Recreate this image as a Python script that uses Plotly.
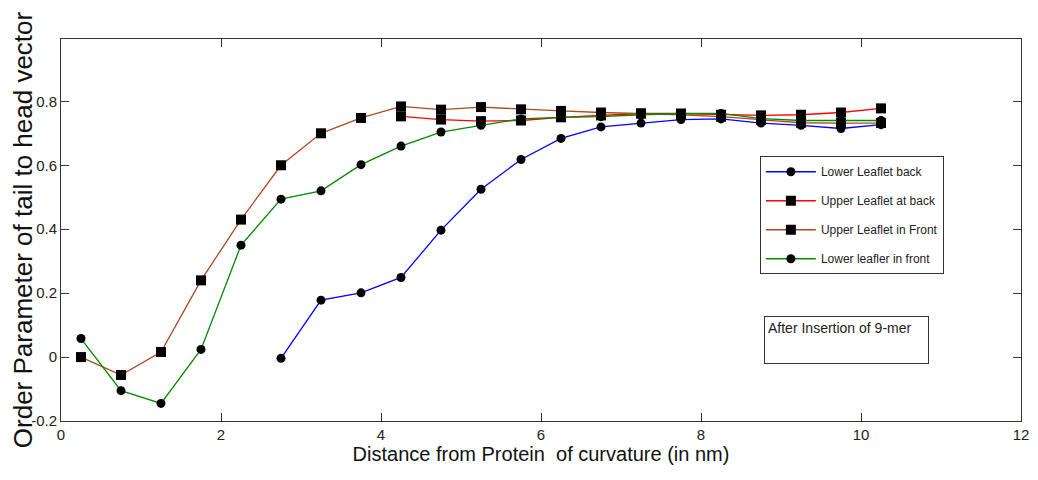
import plotly.graph_objects as go

x_all = [0.25, 0.75, 1.25, 1.75, 2.25, 2.75, 3.25, 3.75, 4.25, 4.75, 5.25,
         5.75, 6.25, 6.75, 7.25, 7.75, 8.25, 8.75, 9.25, 9.75, 10.25]

# Lower Leaflet back (starts at 2.75)
x_lower_back = x_all[5:]
y_lower_back = [-0.004, 0.178, 0.201, 0.249, 0.397, 0.525, 0.618, 0.684, 0.720,
                0.732, 0.743, 0.745, 0.732, 0.725, 0.715, 0.727]

# Upper Leaflet at back (starts at 4.25)
x_upper_back = x_all[8:]
y_upper_back = [0.753, 0.743, 0.738, 0.740, 0.750, 0.756, 0.762, 0.762, 0.758,
                0.756, 0.758, 0.765, 0.778]

# Upper Leaflet in Front
x_upper_front = x_all
y_upper_front = [0.000, -0.056, 0.016, 0.240, 0.430, 0.600, 0.700, 0.748, 0.784,
                 0.774, 0.782, 0.775, 0.770, 0.765, 0.762, 0.758, 0.752, 0.742,
                 0.733, 0.732, 0.732]

# Lower leafler in front
x_lower_front = x_all
y_lower_front = [0.058, -0.105, -0.145, 0.024, 0.350, 0.494, 0.520, 0.602, 0.660,
                 0.704, 0.725, 0.745, 0.750, 0.752, 0.758, 0.762, 0.762, 0.746,
                 0.740, 0.740, 0.740]

x_ticks = [0, 2, 4, 6, 8, 10, 12]
y_ticks = [-0.2, 0, 0.2, 0.4, 0.6, 0.8]
y_tick_labels = ["-0.2", "0", "0.2", "0.4", "0.6", "0.8"]

series = [
    ("Lower Leaflet back", x_lower_back, y_lower_back, "#0000FF", "circle"),
    ("Upper Leaflet at back", x_upper_back, y_upper_back, "#FF0000", "square"),
    ("Upper Leaflet in Front", x_upper_front, y_upper_front, "#B0471E", "square"),
    ("Lower leafler in front", x_lower_front, y_lower_front, "#008A00", "circle"),
]

fig = go.Figure()
for i, (name, xs, ys, col, sym) in enumerate(series):
    fig.add_trace(go.Scatter(
        x=xs, y=ys, name=name, mode="lines+markers", legendgroup=f"g{i}",
        line=dict(color=col, width=1.3),
        marker=dict(symbol=sym, color="black", size=10 if sym == "square" else 9,
                    line=dict(width=0)),
    ))

narrow = "Liberation Sans Narrow, Arial Narrow, Liberation Sans, Arial"
tick_font = dict(family=narrow, size=15, color="#222")

# page body has an 8px margin, so the figure is sized to fit the 1038x480 window
fig.update_layout(
    width=1022, height=464,
    margin=dict(l=53, r=9, t=31, b=51),
    paper_bgcolor="white", plot_bgcolor="white",
    showlegend=True,
    legend=dict(
        x=0.728, y=0.693, xanchor="left", yanchor="top",
        bgcolor="white", bordercolor="#333", borderwidth=1,
        font=dict(family=narrow, size=12, color="#222"),
        itemwidth=50, tracegroupgap=10,
    ),
    xaxis=dict(
        range=[0, 12], tickvals=x_ticks, ticktext=[str(v) for v in x_ticks],
        ticks="inside", ticklen=8, tickcolor="#333", mirror="allticks",
        showline=True, linecolor="#333", linewidth=1, showgrid=False, zeroline=False,
        tickfont=tick_font, automargin=False,
        title=dict(text="Distance from Protein  of curvature (in nm)",
                   font=dict(family="Liberation Sans, Arial", size=20, color="#111"),
                   standoff=4),
    ),
    yaxis=dict(
        range=[-0.2, 0.995], tickvals=y_ticks, ticktext=y_tick_labels,
        ticks="inside", ticklen=8, tickcolor="#333", mirror="allticks",
        showline=True, linecolor="#333", linewidth=1, showgrid=False, zeroline=False,
        tickfont=tick_font, automargin=False,
        title=dict(text="Order Parameter of tail to head vector",
                   font=dict(family="Liberation Sans, Arial", size=26, color="#111"),
                   standoff=8),
    ),
    annotations=[dict(
        text="After Insertion of 9-mer", xref="paper", yref="paper",
        x=0.7323, y=0.2749, xanchor="left", yanchor="top",
        showarrow=False, align="left", valign="top",
        width=157, height=40, borderpad=3,
        bordercolor="#333", borderwidth=1, bgcolor="white",
        font=dict(family=narrow, size=14, color="#222"),
    )],
)

fig.write_html("out.html")
